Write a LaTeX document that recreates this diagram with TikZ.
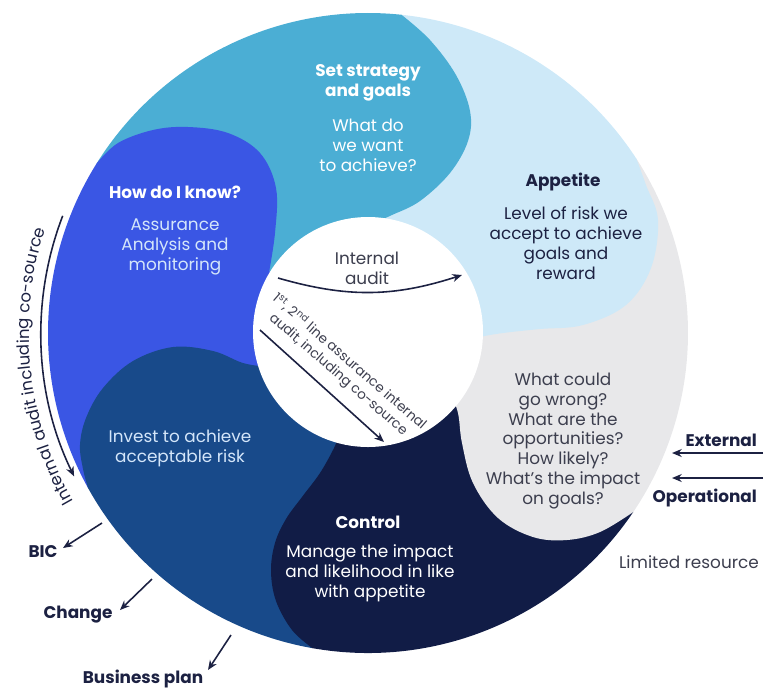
\documentclass[tikz,border=0pt]{standalone}
\usepackage{fontspec}
\setmainfont{Poppins}
\usetikzlibrary{arrows.meta,decorations.text,positioning}

\definecolor{tealc}{RGB}{75,174,212}
\definecolor{lblue}{RGB}{206,233,248}
\definecolor{greyc}{RGB}{232,232,234}
\definecolor{navy}{RGB}{17,28,70}
\definecolor{dblue}{RGB}{24,74,138}
\definecolor{royal}{RGB}{58,86,228}
\definecolor{ink}{RGB}{28,33,66}
\definecolor{midgrey}{RGB}{60,62,78}
\definecolor{paleblue}{RGB}{212,230,250}

\begin{document}
\begin{tikzpicture}[x=0.02cm,y=0.02cm,
    every node/.style={align=center,font=\fontsize{9.6}{11.3}\selectfont},
    bold/.style={font=\fontsize{9.6}{11.3}\selectfont\bfseries},
    arrow/.style={draw=ink,line width=0.9pt,-{Stealth[length=5.5pt,width=4.5pt]}}]

    \useasboundingbox (-368,-358) rectangle (398,333);

    \fill[lblue] (0,0) -- (33:320) arc[start angle=33,end angle=84,radius=320] -- cycle;
    \fill[tealc] (0,0) -- (84:320) arc[start angle=84,end angle=148,radius=320] -- cycle;
    \fill[royal] (0,0) -- (148:320) arc[start angle=148,end angle=209,radius=320] -- cycle;
    \fill[dblue] (0,0) -- (209:320) arc[start angle=209,end angle=260,radius=320] -- cycle;
    \fill[navy] (0,0) -- (260:320) arc[start angle=260,end angle=326,radius=320] -- cycle;
    \fill[greyc] (0,0) -- (326:320) arc[start angle=326,end angle=393,radius=320] -- cycle;

    \fill[tealc] (0,0) -- (87:300) -- plot[smooth,tension=0.6] coordinates {(84:320) (62,293) (88,258) (102,222) (100,192) (82,160) (52,132) (24,118) (10,112)} -- cycle;
    \fill[lblue] (0,0) -- (36:300) -- plot[smooth,tension=0.6] coordinates {(33:320) (278,148) (290,113) (283,65) (258,28) (215,8) (172,4) (135,0) (112,-4) (100,-8)} -- cycle;
    \fill[greyc] (0,0) -- (329:300) -- plot[smooth,tension=0.6] coordinates {(326:320) (232,-199) (199,-207) (165,-204) (130,-185) (105,-150) (94,-110) (90,-80) (82,-58)} -- cycle;
    \fill[navy] (0,0) -- (263:300) -- plot[smooth,tension=0.6] coordinates {(260:320) (-76,-297) (-92,-268) (-97,-238) (-93,-210) (-82,-186) (-66,-164) (-48,-140) (-34,-115) (-28,-100)} -- cycle;
    \fill[dblue] (0,0) -- (212:300) -- plot[smooth,tension=0.6] coordinates {(209:320) (-285,-136) (-288,-112) (-282,-85) (-265,-55) (-235,-28) (-195,-14) (-155,-18) (-125,-30) (-100,-34)} -- cycle;
    \fill[royal] (0,0) -- (151:300) -- plot[smooth,tension=0.6] coordinates {(148:320) (-250,190) (-215,203) (-180,206) (-140,200) (-108,180) (-92,145) (-93,100) (-100,55)} -- cycle;

    \fill[white] (0,1) circle[radius=115];

    \node[bold,text=white] (strat) at (0,250) {Set strategy\\and goals};
    \node[text=white] (strattxt) at (0,188) {What do\\we want\\to achieve?};
    \node[bold,text=white] (know) at (-193,141) {How do I know?};
    \node[text=paleblue] (knowtxt) at (-193,86) {Assurance\\Analysis and\\monitoring};
    \node[bold,text=ink] (appetite) at (195,151) {Appetite};
    \node[text=ink] (appetitetxt) at (198,90) {Level of risk we\\accept to achieve\\goals and\\reward};
    \node[text=midgrey] (risks) at (195,-108) {What could\\go wrong?\\What are the\\opportunities?\\How likely?\\What’s the impact\\on goals?};
    \node[text=paleblue] (invest) at (-188,-115) {Invest to achieve\\acceptable risk};
    \node[bold,text=white] (control) at (0,-189) {Control};
    \node[text=white] (controltxt) at (2,-240) {Manage the impact\\and likelihood in like\\with appetite};

    \node[text=midgrey] (ia) at (-1,65) {Internal\\audit};
    \coordinate (ia1) at (-90,55);
    \coordinate (ia2) at (94,58);
    \draw[arrow] (ia1) to[bend right=17] (ia2);

    \node[rotate=-41,font=\fontsize{7.7}{9.6}\selectfont,text=midgrey] (lines) at (-24,-35) {1\textsuperscript{st}, 2\textsuperscript{nd} line assurance internal\\audit, including co-source};
    \coordinate (la1) at (-108,3);
    \coordinate (la2) at (16,-109);
    \draw[arrow] (la1) -- (la2);

    \coordinate (ca1) at (159:327);
    \draw[arrow] (ca1) arc[start angle=159,end angle=206,radius=327];
    \path[decorate,decoration={text along path,text align=center,text color=ink,
        text={|\fontsize{9.4}{11}\selectfont|Internal audit including co-source}}]
        (216:339) arc[start angle=216,end angle=156,radius=339];

    \node[bold,text=ink,anchor=east] (external) at (395,-107) {External};
    \node[bold,text=ink,anchor=east] (operational) at (395,-165) {Operational};
    \node[text=midgrey,anchor=east] (limited) at (397,-229) {Limited resource};
    \coordinate (ex1) at (395,-120);
    \coordinate (ex2) at (304,-120);
    \coordinate (op1) at (395,-145);
    \coordinate (op2) at (304,-145);
    \draw[arrow] (ex1) -- (ex2);
    \draw[arrow] (op1) -- (op2);

    \node[bold,text=ink] (bic) at (-325,-219) {BIC};
    \node[bold,text=ink] (change) at (-290,-282) {Change};
    \node[bold,text=ink] (bplan) at (-225,-346) {Business plan};
    \coordinate (bic1) at (-266,-190);
    \coordinate (bic2) at (-305,-215);
    \coordinate (ch1) at (-216,-246);
    \coordinate (ch2) at (-248,-277);
    \coordinate (bp1) at (-137,-302);
    \coordinate (bp2) at (-160,-337);
    \draw[arrow] (bic1) -- (bic2);
    \draw[arrow] (ch1) -- (ch2);
    \draw[arrow] (bp1) -- (bp2);
\end{tikzpicture}
\end{document}
